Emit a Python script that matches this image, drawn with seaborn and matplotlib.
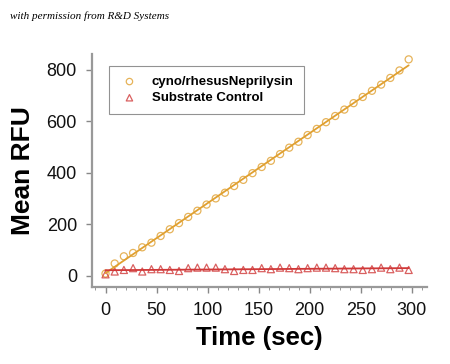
import numpy as np
import pandas as pd
import matplotlib
matplotlib.use("Agg")
import matplotlib.pyplot as plt
import seaborn as sns
from matplotlib.ticker import MultipleLocator

time_sec = [0, 9, 18, 27, 36, 45, 54, 63, 72, 81, 90, 99, 108, 117, 126, 135, 144,
            153, 162, 171, 180, 189, 198, 207, 216, 225, 234, 243, 252, 261, 270,
            279, 288, 297]
neprilysin = [8, 47, 75, 88, 110, 128, 154, 180, 204, 228, 252, 276, 300, 322,
              348, 372, 398, 422, 446, 472, 497, 520, 546, 570, 596, 620, 645,
              670, 694, 718, 742, 768, 797, 840]
substrate = [5, 16, 22, 29, 16, 25, 25, 22, 18, 29, 31, 31, 31, 25, 18, 22, 22,
             29, 25, 31, 29, 25, 29, 31, 31, 29, 25, 25, 22, 25, 31, 25, 31, 22]
labels = ["cyno/rhesusNeprilysin", "Substrate Control"]
colors = ["#E0A030", "#D03838"]
markers = ["o", "^"]

df = pd.DataFrame({"time": time_sec, labels[0]: neprilysin, labels[1]: substrate})

sns.set_style("ticks")
plt.rcParams["font.family"] = ["Liberation Sans", "DejaVu Sans"]
plt.rcParams["text.color"] = "black"
plt.rcParams["axes.labelcolor"] = "black"

fig = plt.figure(figsize=(4.5, 3.64), dpi=100)
ax = fig.add_axes([0.205, 0.211, 0.744, 0.64])

for lab, col, mk in zip(labels, colors, markers):
    sns.regplot(data=df, x="time", y=lab, ax=ax, ci=None, truncate=True,
                marker=mk, color=col, label=lab,
                scatter_kws=dict(s=26, facecolors="none", edgecolors=col, linewidths=0.9),
                line_kws=dict(color=col, lw=1.3))

ax.set_xlim(-13, 315)
ax.set_ylim(-45, 860)
ax.set_xticks([0, 50, 100, 150, 200, 250, 300])
ax.set_yticks([0, 200, 400, 600, 800])
ax.xaxis.set_minor_locator(MultipleLocator(10))
ax.tick_params(axis="both", which="major", labelsize=13, color="#888888",
               length=4, width=1, labelcolor="#111111", pad=7)
ax.tick_params(axis="x", which="minor", length=2, color="#888888")
for s in ["top", "right"]:
    ax.spines[s].set_visible(False)
for s in ["left", "bottom"]:
    ax.spines[s].set_color("#999999")
    ax.spines[s].set_linewidth(1.6)

ax.set_xlabel("Time (sec)", fontsize=18.5, fontweight="bold", labelpad=5)
ax.set_ylabel("Mean RFU", fontsize=19, fontweight="bold", labelpad=8)

leg = ax.legend(loc="upper left", bbox_to_anchor=(0.05, 0.95), frameon=True,
                fancybox=False, edgecolor="#777777", prop=dict(weight="bold", size=9.5),
                handletextpad=0.9, borderpad=0.75, markerscale=0.9,
                handlelength=1.6, borderaxespad=0, labelspacing=0.3)
leg.get_frame().set_linewidth(0.8)

fig.text(0.022, 0.955, "with permission from R&D Systems", fontsize=8,
         style="italic", family=["Liberation Serif", "DejaVu Serif"], va="center")

fig.savefig("out.png", dpi=100, facecolor="white")
